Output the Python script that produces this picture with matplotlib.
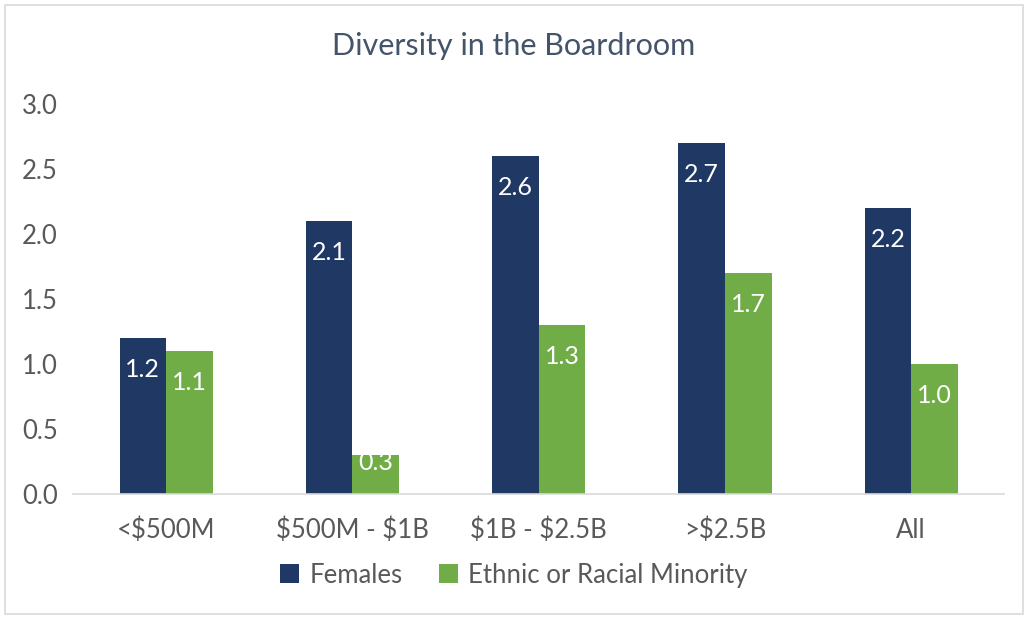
import numpy as np
import matplotlib.pyplot as plt
from matplotlib.patches import Rectangle

categories = ['<$500M', '$500M - $1B', '$1B - $2.5B', '>$2.5B', 'All']
females = [1.2, 2.1, 2.6, 2.7, 2.2]
minority = [1.1, 0.3, 1.3, 1.7, 1.0]
yticks = [0.0, 0.5, 1.0, 1.5, 2.0, 2.5, 3.0]

navy = '#1F3864'
green = '#70AD47'
grey = '#595959'

plt.rcParams['font.family'] = ['Lato', 'DejaVu Sans']
plt.rcParams['text.parse_math'] = False

fig = plt.figure(figsize=(10.28, 6.19), dpi=100)
ax = fig.add_axes([0.071, 0.202, 0.906, 0.630])

x = np.arange(len(categories))
w = 0.25
b1 = ax.bar(x - w / 2, females, w, color=navy, label='Females')
b2 = ax.bar(x + w / 2, minority, w, color=green, label='Ethnic or Racial Minority')

# labels sit just inside the top of each bar (kept above the baseline on short bars)
for bars, vals in ((b1, females), (b2, minority)):
    for r, v in zip(bars, vals):
        ax.text(r.get_x() + r.get_width() / 2, max(v - 0.24, 0.24), '%.1f' % v,
                ha='center', va='center', color='white', fontsize=18)

ax.set_xlim(-0.5, len(categories) - 0.5)
ax.set_ylim(0, 3.0)
ax.set_yticks(yticks)
ax.set_yticklabels(['%.1f' % t for t in yticks])
ax.set_xticks(x)
ax.set_xticklabels(categories)
ax.tick_params(axis='both', length=0, labelsize=18.5, labelcolor=grey)
ax.tick_params(axis='y', pad=11)
ax.tick_params(axis='x', pad=17)
for s in ['top', 'right', 'left']:
    ax.spines[s].set_visible(False)
ax.spines['bottom'].set_color('#D9D9D9')
ax.spines['bottom'].set_linewidth(1.2)

fig.text(0.5, 0.925, 'Diversity in the Boardroom', ha='center', va='center',
         fontsize=22, color='#44546A')

fig.legend(loc='center', bbox_to_anchor=(0.5, 0.071), ncol=2, frameon=False,
           fontsize=18.5, labelcolor=grey, handlelength=0.75, handleheight=0.75,
           handletextpad=0.4, columnspacing=1.4)

fig.patches.append(Rectangle((0.005, 0.008), 0.99, 0.984, transform=fig.transFigure,
                             fill=False, edgecolor='#D9D9D9', linewidth=1.2))

fig.savefig('out.png', dpi=100)
